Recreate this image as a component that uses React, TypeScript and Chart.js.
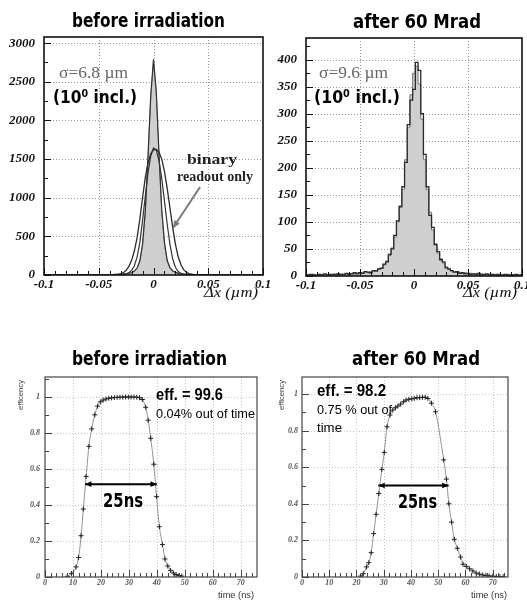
import React, { useEffect, useRef } from "react";
import { Chart, registerables } from "chart.js";

Chart.register(...registerables);

const W = 527;
const H = 601;

// ---------- top panels: residual histograms (bins of 0.0025) ----------
const dxBins = [
  -0.1, -0.0975, -0.095, -0.0925, -0.09, -0.0875, -0.085, -0.0825, -0.08, -0.0775,
  -0.075, -0.0725, -0.07, -0.0675, -0.065, -0.0625, -0.06, -0.0575, -0.055, -0.0525,
  -0.05, -0.0475, -0.045, -0.0425, -0.04, -0.0375, -0.035, -0.0325, -0.03, -0.0275,
  -0.025, -0.0225, -0.02, -0.0175, -0.015, -0.0125, -0.01, -0.0075, -0.005, -0.0025,
  0,
  0.0025, 0.005, 0.0075, 0.01, 0.0125, 0.015, 0.0175, 0.02, 0.0225, 0.025,
  0.0275, 0.03, 0.0325, 0.035, 0.0375, 0.04, 0.0425, 0.045, 0.0475, 0.05,
  0.0525, 0.055, 0.0575, 0.06, 0.0625, 0.065, 0.0675, 0.07, 0.0725, 0.075,
  0.0775, 0.08, 0.0825, 0.085, 0.0875, 0.09, 0.0925, 0.095, 0.0975, 0.1,
];

// before irradiation (10 deg incl.)
const tlNarrowFill = [
  0, 0, 0, 0, 0, 0, 0, 0, 0, 0, 0, 0, 1, 1, 1, 1, 1, 2, 2, 2,
  2, 2, 3, 3, 3, 4, 5, 6, 8, 11, 15, 22, 30, 48, 85, 170, 380, 800, 1500, 2300,
  2750,
  2350, 1550, 830, 400, 180, 90, 50, 32, 22, 15, 11, 8, 6, 5, 4, 3, 3, 2, 2, 2,
  2, 1, 1, 1, 1, 1, 1, 0, 0, 0, 0, 0, 0, 0, 0, 0, 0, 0, 0, 0,
];
const tlNarrowLine = [
  0, 0, 0, 0, 0, 0, 0, 0, 0, 0, 0, 1, 0, 1, 1, 2, 1, 2, 2, 3,
  2, 3, 3, 4, 3, 5, 5, 7, 9, 12, 16, 24, 32, 50, 90, 180, 400, 830, 1540, 2330,
  2790,
  2380, 1580, 850, 420, 190, 95, 55, 34, 24, 16, 12, 9, 7, 5, 4, 4, 3, 3, 2, 2,
  1, 2, 1, 1, 1, 0, 1, 0, 0, 0, 0, 0, 0, 0, 0, 0, 0, 0, 0, 0,
];
const tlBroadInner = [
  0, 0, 0, 0, 0, 0, 0, 0, 0, 0, 0, 0, 0, 0, 0, 1, 1, 1, 2, 2,
  2, 2, 3, 3, 3, 4, 5, 6, 8, 10, 15, 30, 60, 120, 230, 420, 700, 1020, 1320, 1540,
  1645,
  1620, 1480, 1250, 960, 660, 400, 210, 100, 45, 22, 12, 8, 6, 5, 4, 3, 3, 2, 2, 2,
  1, 1, 1, 1, 0, 0, 0, 0, 0, 0, 0, 0, 0, 0, 0, 0, 0, 0, 0, 0,
];
const tlBroadBinary = [
  0, 0, 0, 0, 0, 0, 0, 0, 0, 0, 0, 0, 0, 0, 0, 1, 1, 1, 2, 2,
  2, 2, 3, 3, 4, 5, 7, 9, 15, 30, 60, 110, 190, 310, 480, 720, 1000, 1260, 1450, 1570,
  1620,
  1625, 1590, 1500, 1340, 1120, 870, 620, 400, 240, 135, 70, 35, 18, 10, 6, 4, 3, 3, 2, 2,
  2, 1, 1, 1, 1, 0, 0, 0, 0, 0, 0, 0, 0, 0, 0, 0, 0, 0, 0, 0,
];

// after 60 Mrad
const trFill = [
  2, 3, 1, 3, 2, 2, 3, 2, 3, 2, 3, 4, 2, 3, 4, 3, 4, 5, 4, 6,
  5, 6, 7, 6, 8, 9, 10, 12, 15, 20, 28, 38, 52, 72, 100, 130, 160, 215, 275, 335,
  375,
  388, 355, 290, 215, 160, 118, 85, 60, 42, 32, 24, 17, 12, 9, 8, 6, 7, 5, 6, 4,
  5, 3, 4, 3, 4, 2, 3, 3, 2, 3, 2, 2, 3, 1, 2, 3, 2, 1, 2, 2,
];
const trLine = [
  1, 2, 3, 2, 1, 3, 2, 4, 2, 3, 3, 2, 4, 3, 2, 5, 3, 4, 6, 4,
  6, 5, 8, 7, 6, 10, 9, 13, 14, 22, 26, 40, 50, 75, 102, 128, 165, 210, 280, 325,
  345,
  395, 380, 300, 225, 165, 112, 90, 58, 45, 30, 26, 15, 13, 10, 7, 8, 5, 6, 4, 5,
  3, 4, 3, 5, 2, 3, 4, 2, 3, 2, 3, 1, 2, 3, 2, 1, 2, 3, 1, 2,
];

// ---------- bottom panels: efficiency vs time ----------
const blTime = [
  8.0, 9.5, 11.1, 12.0, 12.9, 13.7, 14.7, 15.7, 16.7, 17.8, 18.8, 19.8, 20.8, 21.8,
  22.8, 23.8, 24.8, 25.8, 26.8, 27.8, 28.8, 29.8, 30.8, 31.8, 32.8, 33.8, 34.8, 36.0,
  36.9, 37.8, 38.9, 39.9, 40.9, 42.0, 42.9, 43.9, 44.9, 45.9, 46.9, 47.9, 48.9,
];
const blEff = [
  0.004, 0.02, 0.056, 0.108, 0.229, 0.377, 0.558, 0.725, 0.822, 0.9, 0.948, 0.972, 0.982, 0.988,
  0.992, 0.994, 0.996, 0.997, 0.998, 0.998, 0.999, 0.999, 0.999, 0.999, 0.998, 0.995, 0.985, 0.942,
  0.87, 0.77, 0.626, 0.446, 0.279, 0.18, 0.1, 0.061, 0.037, 0.022, 0.013, 0.008, 0.005,
];
const brTime = [
  21.5, 22.5, 23.7, 24.5, 25.4, 26.3, 27.2, 28.2, 29.3, 30.2, 31.2, 32.3, 33.3, 34.3,
  35.2, 36.2, 37.3, 38.2, 39.2, 40.3, 41.2, 42.2, 43.2, 44.2, 45.2, 46.2, 47.5, 49.0,
  52.0, 53.0, 53.9, 54.9, 55.9, 57.0, 58.2, 59.1, 60.3, 61.5, 62.7, 63.9, 65.1, 66.3,
  67.5, 68.7, 70.0, 71.3, 72.6, 73.8,
];
const brEff = [
  0.005, 0.018, 0.055, 0.078, 0.133, 0.237, 0.343, 0.456, 0.588, 0.681, 0.821, 0.885, 0.912, 0.925,
  0.934, 0.945, 0.958, 0.967, 0.971, 0.974, 0.976, 0.98, 0.98, 0.982, 0.982, 0.976, 0.95, 0.903,
  0.64, 0.535, 0.4, 0.3, 0.206, 0.157, 0.109, 0.07, 0.058, 0.045, 0.033, 0.022, 0.016, 0.011,
  0.008, 0.006, 0.004, 0.003, 0.002, 0.002,
];

// ---------- ticks ----------
const topXTicks = [-0.1, -0.05, 0, 0.05, 0.1];
const topXLabels = ["-0.1", "-0.05", "0", "0.05", "0.1"];
const tlYTicks = [0, 500, 1000, 1500, 2000, 2500, 3000];
const trYTicks = [0, 50, 100, 150, 200, 250, 300, 350, 400];
const botXTicks = [0, 10, 20, 30, 40, 50, 60, 70];
const botYTicks = [0, 0.2, 0.4, 0.6, 0.8, 1];
const botYLabels = ["0", "0.2", "0.4", "0.6", "0.8", "1"];

// annotation arrows in data coordinates: [x1, y1, x2, y2]
const tlBinaryArrow = [0.0425, 1139, 0.0178, 608];
const blWidthArrow = [14.3, 0.515, 40.0, 0.515];
const brWidthArrow = [28.0, 0.5, 53.8, 0.5];

type TextItem = {
  text: string; x: number; y: number; font: string; color?: string;
  width?: number; align?: CanvasTextAlign; rotate?: boolean;
};
type ArrowItem = { pts: number[]; color: string; lw: number; head: number; both: boolean };
type Panel = {
  area: { l: number; t: number; r: number; b: number };
  yW: number; xH: number;
  xMin: number; xMax: number; yMin: number; yMax: number;
  xTicks: number[]; xLabels: string[]; yTicks: number[]; yLabels: string[];
  gridX: number[]; gridY: number[];
  minorX: number; majorX: number; minorY: number; majorY: number;
  tickFont: any; tickColor: string; xPad: number; yPad: number;
  datasets: any[]; texts: TextItem[]; arrows: ArrowItem[];
  frameColor: string; frameWidth: number; gridColor: string;
};

function drawText(ctx: CanvasRenderingContext2D, t: TextItem) {
  ctx.save();
  ctx.font = t.font;
  ctx.fillStyle = t.color || "#000";
  ctx.textBaseline = "alphabetic";
  ctx.textAlign = t.align || "left";
  const w = ctx.measureText(t.text).width;
  const sx = t.width ? t.width / w : 1;
  ctx.translate(t.x, t.y);
  if (t.rotate) ctx.rotate(-Math.PI / 2);
  ctx.scale(sx, 1);
  ctx.fillText(t.text, 0, 0);
  ctx.restore();
}

function drawArrow(ctx: CanvasRenderingContext2D, x1: number, y1: number, x2: number, y2: number, a: ArrowItem) {
  ctx.save();
  ctx.strokeStyle = a.color;
  ctx.fillStyle = a.color;
  ctx.lineWidth = a.lw;
  ctx.beginPath();
  ctx.moveTo(x1, y1);
  ctx.lineTo(x2, y2);
  ctx.stroke();
  const ang = Math.atan2(y2 - y1, x2 - x1);
  const tri = (x: number, y: number, an: number) => {
    ctx.beginPath();
    ctx.moveTo(x, y);
    ctx.lineTo(x - a.head * Math.cos(an - 0.42), y - a.head * Math.sin(an - 0.42));
    ctx.lineTo(x - a.head * Math.cos(an + 0.42), y - a.head * Math.sin(an + 0.42));
    ctx.closePath();
    ctx.fill();
  };
  tri(x2, y2, ang);
  if (a.both) tri(x1, y1, ang + Math.PI);
  ctx.restore();
}

function buildChart(canvas: HTMLCanvasElement, p: Panel) {
  const decor = {
    id: "decor",
    beforeDatasetsDraw(chart: any) {
      const { ctx, chartArea: a } = chart;
      const xs = chart.scales.x;
      const ys = chart.scales.y;
      ctx.save();
      ctx.strokeStyle = p.gridColor;
      ctx.lineWidth = 1;
      ctx.setLineDash([1, 2]);
      for (const v of p.gridX) {
        const px = Math.round(xs.getPixelForValue(v)) + 0.5;
        ctx.beginPath();
        ctx.moveTo(px, a.top);
        ctx.lineTo(px, a.bottom);
        ctx.stroke();
      }
      for (const v of p.gridY) {
        const py = Math.round(ys.getPixelForValue(v)) + 0.5;
        ctx.beginPath();
        ctx.moveTo(a.left, py);
        ctx.lineTo(a.right, py);
        ctx.stroke();
      }
      ctx.restore();
    },
    afterDatasetsDraw(chart: any) {
      const { ctx, chartArea: a } = chart;
      const xs = chart.scales.x;
      const ys = chart.scales.y;
      ctx.save();
      ctx.strokeStyle = p.frameColor;
      ctx.lineWidth = 1;
      const nx = Math.round((p.xMax - p.xMin) / p.minorX);
      for (let i = 0; i <= nx; i++) {
        const v = p.xMin + i * p.minorX;
        if (v > p.xMax + 1e-9) break;
        const isMajor = Math.abs(v / p.majorX - Math.round(v / p.majorX)) < 1e-6;
        const px = Math.round(xs.getPixelForValue(v)) + 0.5;
        ctx.beginPath();
        ctx.moveTo(px, a.bottom);
        ctx.lineTo(px, a.bottom - (isMajor ? 7 : 4));
        ctx.stroke();
      }
      const ny = Math.floor((p.yMax - p.yMin) / p.minorY + 1e-6);
      for (let i = 0; i <= ny; i++) {
        const v = p.yMin + i * p.minorY;
        const isMajor = Math.abs(v / p.majorY - Math.round(v / p.majorY)) < 1e-6;
        const py = Math.round(ys.getPixelForValue(v)) + 0.5;
        ctx.beginPath();
        ctx.moveTo(a.left, py);
        ctx.lineTo(a.left + (isMajor ? 7 : 4), py);
        ctx.stroke();
      }
      ctx.lineWidth = p.frameWidth;
      ctx.strokeRect(a.left, a.top, a.right - a.left, a.bottom - a.top);
      ctx.restore();
      for (const ar of p.arrows) {
        drawArrow(
          ctx,
          xs.getPixelForValue(ar.pts[0]), ys.getPixelForValue(ar.pts[1]),
          xs.getPixelForValue(ar.pts[2]), ys.getPixelForValue(ar.pts[3]),
          ar
        );
      }
    },
    afterDraw(chart: any) {
      for (const t of p.texts) drawText(chart.ctx, t);
    },
  };

  return new Chart(canvas, {
    type: "line",
    data: { datasets: p.datasets },
    options: {
      animation: false,
      responsive: false,
      devicePixelRatio: 1,
      events: [],
      layout: {
        padding: {
          left: p.area.l - p.yW,
          right: W - p.area.r,
          top: p.area.t,
          bottom: H - p.area.b - p.xH,
        },
      },
      plugins: { legend: { display: false }, tooltip: { enabled: false } },
      scales: {
        x: {
          type: "linear",
          min: p.xMin,
          max: p.xMax,
          grid: { display: false, drawTicks: false },
          border: { display: false },
          ticks: {
            autoSkip: false,
            maxRotation: 0,
            minRotation: 0,
            padding: p.xPad,
            font: p.tickFont,
            color: p.tickColor,
            callback: (_v: any, i: number) => p.xLabels[i],
          },
          afterBuildTicks: (s: any) => {
            s.ticks = p.xTicks.map((v) => ({ value: v }));
          },
          afterFit: (s: any) => {
            s.height = p.xH;
            s.paddingLeft = 0;
            s.paddingRight = 0;
          },
        },
        y: {
          type: "linear",
          min: p.yMin,
          max: p.yMax,
          grid: { display: false, drawTicks: false },
          border: { display: false },
          ticks: {
            autoSkip: false,
            padding: p.yPad,
            font: p.tickFont,
            color: p.tickColor,
            callback: (_v: any, i: number) => p.yLabels[i],
          },
          afterBuildTicks: (s: any) => {
            s.ticks = p.yTicks.map((v) => ({ value: v }));
          },
          afterFit: (s: any) => {
            s.width = p.yW;
            s.paddingTop = 0;
            s.paddingBottom = 0;
          },
        },
      },
    } as any,
    plugins: [decor],
  });
}

const pts = (xs: number[], ys: number[]) => xs.map((x, i) => ({ x, y: ys[i] }));

const titleFont = 'bold 19px "DejaVu Sans"';
const topTickFont = { family: "Liberation Serif", size: 13, style: "italic", weight: "bold" };
const botTickFont = { family: "Liberation Serif", size: 8, style: "italic", weight: "bold" };

function histLine(data: number[], color: string, lw: number, order: number, fill?: string, stepped?: any) {
  return {
    data: pts(dxBins, data),
    borderColor: color,
    borderWidth: lw,
    backgroundColor: fill || "transparent",
    fill: fill ? "origin" : false,
    pointRadius: 0,
    tension: 0,
    stepped: stepped || false,
    order,
  };
}

function effSets(t: number[], e: number[]) {
  return [
    {
      data: pts(t, e),
      showLine: false,
      pointStyle: "cross",
      pointRadius: 2.5,
      borderColor: "#222",
      backgroundColor: "#222",
      borderWidth: 1,
      order: 1,
    },
    {
      data: pts(t, e),
      borderColor: "#777",
      borderWidth: 0.8,
      pointRadius: 0,
      cubicInterpolationMode: "monotone",
      fill: false,
      order: 2,
    },
  ];
}

function makePanels(): Panel[] {
  const tl: Panel = {
    area: { l: 44, t: 37, r: 263, b: 275 },
    yW: 44, xH: 25,
    xMin: -0.1, xMax: 0.1, yMin: 0, yMax: 3080,
    xTicks: topXTicks, xLabels: topXLabels,
    yTicks: tlYTicks, yLabels: tlYTicks.map(String),
    gridX: [-0.05, 0, 0.05], gridY: [500, 1000, 1500, 2000, 2500, 3000],
    minorX: 0.01, majorX: 0.05, minorY: 250, majorY: 500,
    tickFont: topTickFont, tickColor: "#111", xPad: 2, yPad: 9,
    datasets: [
      histLine(tlNarrowFill, "#888", 1, 5, "#cfcfcf"),
      histLine(tlBroadBinary, "#2a2a2a", 1.3, 1),
      histLine(tlBroadInner, "#333", 1.2, 2),
      histLine(tlNarrowLine, "#333", 1.2, 3),
    ],
    texts: [
      { text: "before irradiation", x: 72, y: 27, font: titleFont, width: 153 },
      { text: "σ=6.8 µm", x: 59, y: 78, font: '17px "Liberation Serif"', color: "#666", width: 69 },
      { text: "(10⁰ incl.)", x: 53, y: 103, font: 'bold 18px "DejaVu Sans"', width: 84 },
      { text: "binary", x: 212, y: 164, font: 'bold 15px "Liberation Serif"', color: "#222", width: 50, align: "center" },
      { text: "readout only", x: 215, y: 181, font: 'bold 15px "Liberation Serif"', color: "#222", width: 76, align: "center" },
      { text: "Δx (µm)", x: 258, y: 297, font: 'italic 15px "Liberation Serif"', color: "#111", width: 54, align: "right" },
    ],
    arrows: [{ pts: tlBinaryArrow, color: "#7a7a7a", lw: 2, head: 8, both: false }],
    frameColor: "#111", frameWidth: 1.6, gridColor: "#9a9a9a",
  };
  const tr: Panel = {
    area: { l: 306, t: 38, r: 522, b: 276 },
    yW: 40, xH: 25,
    xMin: -0.1, xMax: 0.1, yMin: 0, yMax: 440,
    xTicks: topXTicks, xLabels: topXLabels,
    yTicks: trYTicks, yLabels: trYTicks.map(String),
    gridX: [-0.05, 0, 0.05], gridY: [50, 100, 150, 200, 250, 300, 350, 400],
    minorX: 0.01, majorX: 0.05, minorY: 25, majorY: 50,
    tickFont: topTickFont, tickColor: "#111", xPad: 2, yPad: 9,
    datasets: [
      histLine(trFill, "#777", 1, 5, "#cfcfcf", "middle"),
      histLine(trLine, "#2a2a2a", 1.3, 1, undefined, "middle"),
    ],
    texts: [
      { text: "after 60 Mrad", x: 353, y: 28, font: titleFont, width: 128 },
      { text: "σ=9.6 µm", x: 319, y: 78, font: '17px "Liberation Serif"', color: "#666", width: 69 },
      { text: "(10⁰ incl.)", x: 314, y: 103, font: 'bold 18px "DejaVu Sans"', width: 86 },
      { text: "Δx (µm)", x: 517, y: 297, font: 'italic 15px "Liberation Serif"', color: "#111", width: 54, align: "right" },
    ],
    arrows: [],
    frameColor: "#111", frameWidth: 1.6, gridColor: "#9a9a9a",
  };
  const bl: Panel = {
    area: { l: 45, t: 377, r: 257, b: 577 },
    yW: 45, xH: 14,
    xMin: 0, xMax: 75.8, yMin: 0, yMax: 1.11,
    xTicks: botXTicks, xLabels: botXTicks.map(String),
    yTicks: botYTicks, yLabels: botYLabels,
    gridX: [10, 20, 30, 40, 50, 60, 70], gridY: [0.2, 0.4, 0.6, 0.8, 1],
    minorX: 2, majorX: 10, minorY: 0.1, majorY: 0.2,
    tickFont: botTickFont, tickColor: "#555", xPad: 1, yPad: 5,
    datasets: effSets(blTime, blEff),
    texts: [
      { text: "before irradiation", x: 72, y: 365, font: titleFont, width: 155 },
      { text: "eff. = 99.6", x: 156, y: 400, font: 'bold 16px "Liberation Sans"', width: 67 },
      { text: "0.04% out of time", x: 156, y: 418, font: '13px "Liberation Sans"', width: 99 },
      { text: "25ns", x: 103, y: 507, font: 'bold 19px "DejaVu Sans"', width: 40 },
      { text: "efficency", x: 23, y: 380, font: '8px "Liberation Sans"', color: "#333", width: 30, align: "right", rotate: true },
      { text: "time (ns)", x: 254, y: 598, font: '9px "Liberation Sans"', color: "#333", width: 36, align: "right" },
    ],
    arrows: [{ pts: blWidthArrow, color: "#000", lw: 2, head: 7, both: true }],
    frameColor: "#444", frameWidth: 1.2, gridColor: "#c4c4c4",
  };
  const br: Panel = {
    area: { l: 302, t: 377, r: 508, b: 577 },
    yW: 36, xH: 14,
    xMin: 0, xMax: 75.6, yMin: 0, yMax: 1.093,
    xTicks: botXTicks, xLabels: botXTicks.map(String),
    yTicks: botYTicks, yLabels: botYLabels,
    gridX: [10, 20, 30, 40, 50, 60, 70], gridY: [0.2, 0.4, 0.6, 0.8, 1],
    minorX: 2, majorX: 10, minorY: 0.1, majorY: 0.2,
    tickFont: botTickFont, tickColor: "#555", xPad: 1, yPad: 4,
    datasets: effSets(brTime, brEff),
    texts: [
      { text: "after 60 Mrad", x: 352, y: 365, font: titleFont, width: 128 },
      { text: "eff. = 98.2", x: 317, y: 396, font: 'bold 16px "Liberation Sans"', width: 69 },
      { text: "0.75 % out of", x: 317, y: 414, font: '13px "Liberation Sans"', width: 75 },
      { text: "time", x: 317, y: 432, font: '13px "Liberation Sans"', width: 25 },
      { text: "25ns", x: 398, y: 508, font: 'bold 19px "DejaVu Sans"', width: 39 },
      { text: "efficency", x: 284, y: 380, font: '8px "Liberation Sans"', color: "#333", width: 30, align: "right", rotate: true },
      { text: "time (ns)", x: 507, y: 598, font: '9px "Liberation Sans"', color: "#333", width: 36, align: "right" },
    ],
    arrows: [{ pts: brWidthArrow, color: "#000", lw: 2, head: 7, both: true }],
    frameColor: "#444", frameWidth: 1.2, gridColor: "#c4c4c4",
  };
  return [tl, tr, bl, br];
}

export default function App() {
  const r0 = useRef<HTMLCanvasElement>(null);
  const r1 = useRef<HTMLCanvasElement>(null);
  const r2 = useRef<HTMLCanvasElement>(null);
  const r3 = useRef<HTMLCanvasElement>(null);
  const refs = [r0, r1, r2, r3];

  useEffect(() => {
    const panels = makePanels();
    const charts = panels.map((p, i) => buildChart(refs[i].current as HTMLCanvasElement, p));
    return () => charts.forEach((c) => c.destroy());
  }, []);

  return (
    <div
      style={{
        position: "absolute",
        left: 0,
        top: 0,
        width: W,
        height: H,
        background: "#fff",
        overflow: "hidden",
      }}
    >
      {refs.map((r, i) => (
        <canvas
          key={i}
          ref={r}
          width={W}
          height={H}
          style={{ position: "absolute", left: 0, top: 0, width: W, height: H }}
        />
      ))}
    </div>
  );
}
